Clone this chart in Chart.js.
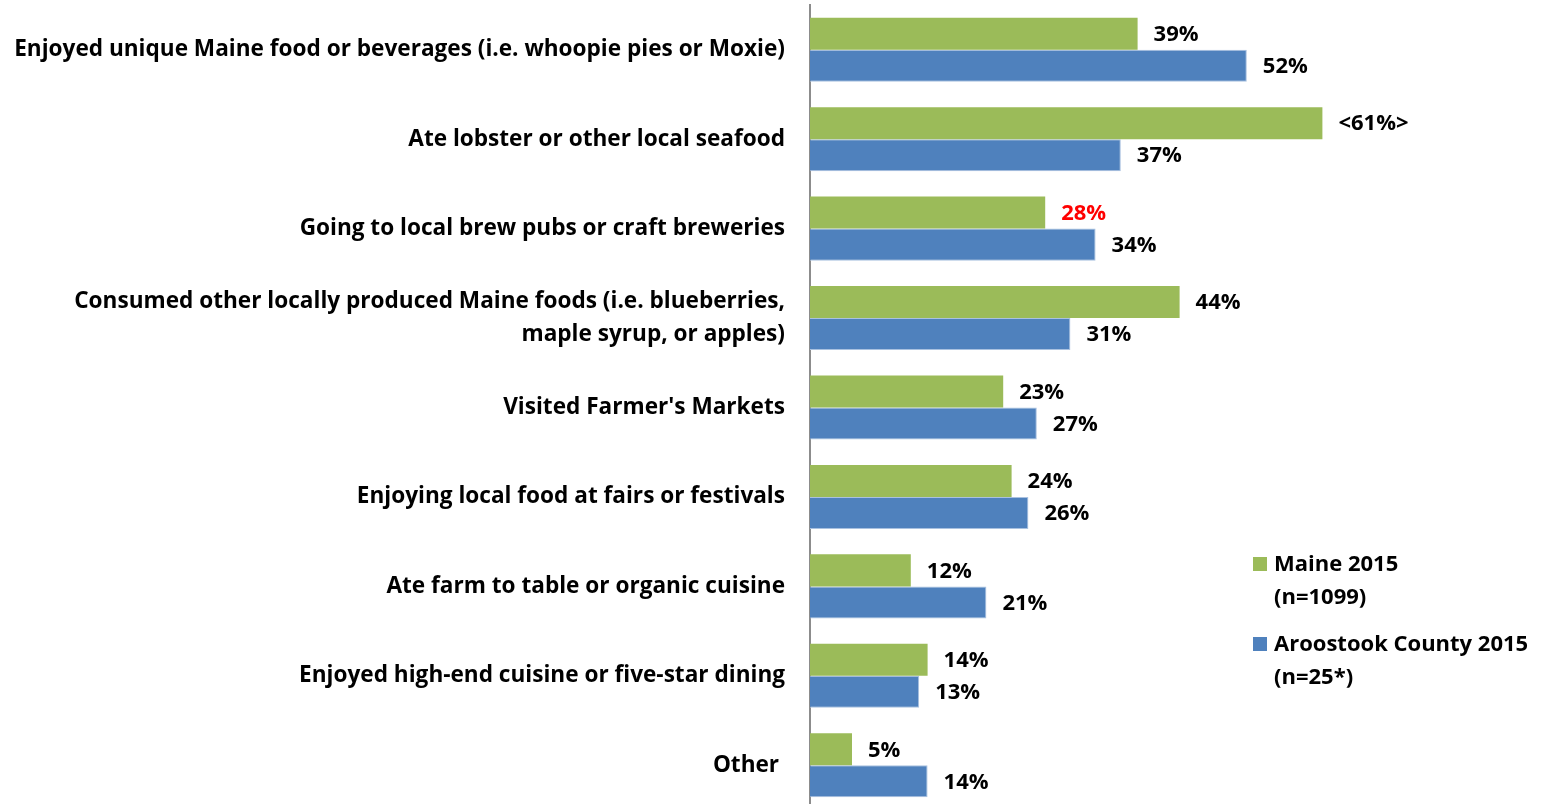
<!DOCTYPE html>
<html>
<head>
<meta charset="utf-8">
<script src="https://cdn.jsdelivr.net/npm/chart.js@4"></script>
<style>
html,body{margin:0;padding:0;background:#fff;overflow:hidden;}
#wrap{width:1541px;height:810px;position:relative;}
</style>
</head>
<body>
<div id="wrap"><canvas id="c"></canvas></div>
<script>
const categories = [
  'Enjoyed unique Maine food or beverages (i.e. whoopie pies or Moxie)',
  'Ate lobster or other local seafood',
  'Going to local brew pubs or craft breweries',
  ['Consumed other locally produced Maine foods (i.e. blueberries,', 'maple syrup, or apples)'],
  "Visited Farmer's Markets",
  'Enjoying local food at fairs or festivals',
  'Ate farm to table or organic cuisine',
  'Enjoyed high-end cuisine or five-star dining',
  'Other '
];
const maine2015 = [39, 61, 28, 44, 23, 24, 12, 14, 5];
const aroostook2015 = [52, 37, 34, 31, 27, 26, 21, 13, 14];
const maineLabels = ['39%', '<61%>', '28%', '44%', '23%', '24%', '12%', '14%', '5%'];
const aroostookLabels = ['52%', '37%', '34%', '31%', '27%', '26%', '21%', '13%', '14%'];
const maineLabelColors = ['#000', '#000', '#FF0000', '#000', '#000', '#000', '#000', '#000', '#000'];
const legendItems = [
  {lines: ['Maine 2015', '(n=1099)'], color: '#9BBB59'},
  {lines: ['Aroostook County 2015', '(n=25*)'], color: '#4F81BD'}
];

const FONT = "'Open Sans', Lato, sans-serif";

const valueLabels = {
  id: 'valueLabels',
  afterDatasetsDraw(chart) {
    const ctx = chart.ctx;
    ctx.save();
    ctx.font = 'bold 22px ' + FONT;
    ctx.textBaseline = 'middle';
    ctx.textAlign = 'left';
    chart.data.datasets.forEach((ds, di) => {
      const meta = chart.getDatasetMeta(di);
      meta.data.forEach((bar, i) => {
        const txt = di === 0 ? maineLabels[i] : aroostookLabels[i];
        ctx.fillStyle = di === 0 ? maineLabelColors[i] : '#000';
        ctx.fillText(txt, bar.x + 16, bar.y + 1);
      });
    });
    ctx.restore();
  }
};

const customLegend = {
  id: 'customLegend',
  afterDraw(chart) {
    const ctx = chart.ctx;
    ctx.save();
    ctx.font = 'bold 22px ' + FONT;
    ctx.textBaseline = 'middle';
    ctx.textAlign = 'left';
    const x0 = 1253, starts = [564, 644];
    legendItems.forEach((it, k) => {
      const y = starts[k];
      ctx.fillStyle = it.color;
      ctx.fillRect(x0, y - 7, 14, 14);
      ctx.fillStyle = '#000';
      it.lines.forEach((ln, j) => ctx.fillText(ln, x0 + 21, y + 1 + j * 33));
    });
    ctx.restore();
  }
};

new Chart(document.getElementById('c'), {
  type: 'bar',
  data: {
    labels: categories,
    datasets: [
      {label: 'Maine 2015 (n=1099)', data: maine2015, backgroundColor: '#9BBB59', borderWidth: 0},
      {label: 'Aroostook County 2015 (n=25*)', data: aroostook2015, backgroundColor: '#4F81BD', borderColor: '#A9C1E0', borderWidth: {top: 1, right: 1, bottom: 1}, borderSkipped: 'left'}
    ]
  },
  options: {
    indexAxis: 'y',
    responsive: true,
    maintainAspectRatio: false,
    animation: false,
    layout: {padding: {top: 5, right: 59, bottom: 0, left: 0}},
    categoryPercentage: 0.716,
    barPercentage: 1.0,
    plugins: {legend: {display: false}, tooltip: {enabled: false}},
    scales: {
      x: {display: false, min: 0, max: 80},
      y: {
        afterFit(scale) { scale.width = 810; scale.paddingTop = 0; scale.paddingBottom = 0; },
        grid: {display: false, drawTicks: false},
        border: {display: true, color: '#8C8C8C', width: 2},
        ticks: {
          color: '#000',
          padding: 25,
          font: {family: FONT, size: 22.6, weight: 'bold', lineHeight: 1.42}
        }
      }
    }
  },
  plugins: [valueLabels, customLegend]
});
</script>
</body>
</html>
